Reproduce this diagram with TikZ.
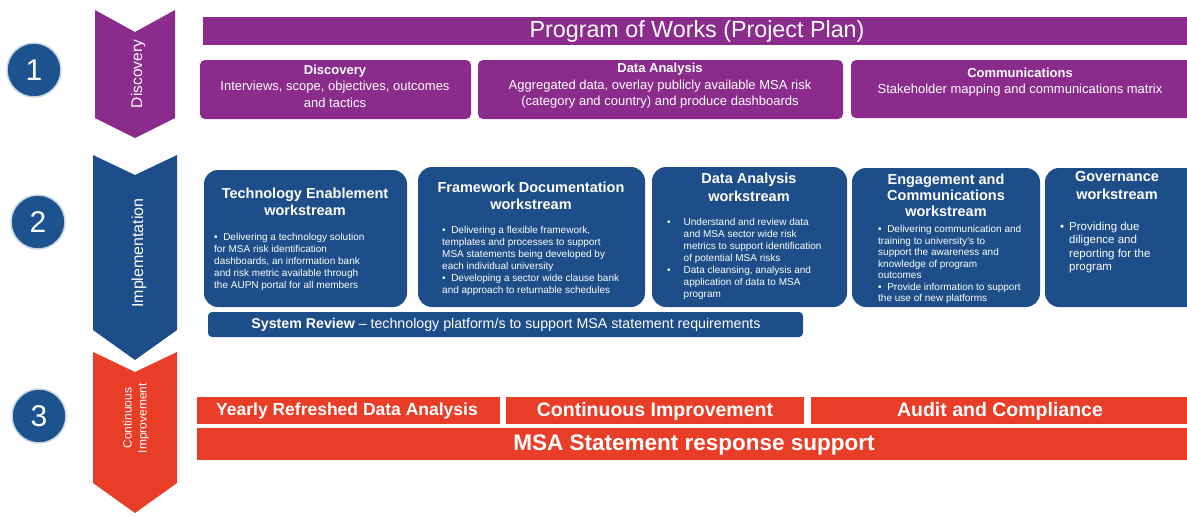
\documentclass[tikz,border=0pt]{standalone}
\usepackage{fontspec}
\setmainfont{Liberation Sans}
\usetikzlibrary{fit}

\definecolor{discpurple}{RGB}{139,43,140}
\definecolor{implblue}{RGB}{29,78,137}
\definecolor{contred}{RGB}{232,62,40}
\definecolor{numblue}{RGB}{28,82,142}

\newcommand{\wsgap}{5pt}

\tikzset{
  phasebox/.style={fill=discpurple, rounded corners=5pt, inner sep=0pt},
  wsbox/.style={fill=implblue, rounded corners=14pt, inner sep=0pt},
  redbar/.style={fill=contred, inner sep=0pt},
  numcircle/.style={circle, fill=numblue, draw=white!75!numblue, line width=1.5pt,
    minimum size=54pt, inner sep=0pt, text=white, font=\fontsize{30}{30}\selectfont},
  phaselabel/.style={rotate=90, text=white, align=center, font=\fontsize{#1}{15}\selectfont},
  phasetext/.style={text=white, align=center, font=\fontsize{13}{16.5}\selectfont},
  wstitle/.style={text=white, align=center, font=\fontsize{14.5}{17.5}\selectfont\bfseries},
  wsbody/.style={text=white, anchor=west, inner sep=0pt,
    font=\fontsize{10}{12}\selectfont},
  bartext/.style={text=white, font=\fontsize{#1}{#1}\selectfont\bfseries},
}

\begin{document}
\begin{tikzpicture}[x=1pt, y=-1pt]
			\useasboundingbox (0,0) rectangle (1187,515);
			\clip (0,0) rectangle (1187,515);
			%%%%% STAGES %%%%%
			
			\node[numcircle] (one) at (34,70) {1};
			\node[numcircle] (two) at (38,222) {2};
			\node[numcircle] (three) at (39,416) {3};
			
			\fill[discpurple] (95,10) -- (135,32) -- (175,10) -- (175,118) -- (135,138) -- (95,118) -- cycle;
			\fill[implblue] (93,155) -- (135,175) -- (177,155) -- (177,330) -- (135,360) -- (93,330) -- cycle;
			\fill[contred] (93,352) -- (135,372) -- (177,352) -- (177,483) -- (135,513) -- (93,483) -- cycle;
			
			\node[phaselabel=15.5] (discL) at (138,74) {Discovery};
			\node[phaselabel=16] (implL) at (139,253) {Implementation};
			\node[phaselabel=12] (contL) at (136,418) {Continuous\\Improvement};
			
			%%%%% DISCOVERY %%%%%
			
			\node[fill=discpurple, inner sep=0pt, fit={(203,17) (1195,45)}] (pow) {};
			\node[text=white, font=\fontsize{23.3}{23.3}\selectfont] (powT) at (697,31) {Program of Works (Project Plan)};
			
			\node[phasebox, fit={(200,60) (471,119)}] (disc) {};
			\node[phasetext] (discT) at (335,86) {\textbf{Discovery}\\Interviews, scope, objectives, outcomes\\and tactics};
			\node[phasebox, fit={(478,60) (843,119)}] (data) {};
			\node[phasetext] (dataT) at (660,86) {\textbf{Data Analysis}\\Aggregated data, overlay publicly available MSA risk\\(category and country) and produce dashboards};
			\node[phasebox, fit={(851,60) (1200,118)}] (comm) {};
			\node[phasetext] (commT) at (1020,82) {\textbf{Communications}\\Stakeholder mapping and communications matrix};
			
			%%%%% IMPLEMENTATION %%%%%
			
			\node[wsbox, fit={(204,170) (407,307)}] (tech) {};
			\node[wstitle] (techT) at (305,202) {Technology Enablement\\workstream};
			\node[wsbody] (techB) at (214,262) {%
				\begin{tabular}{@{}l@{}}
				\textbullet\ \ Delivering a technology solution\\
				for MSA risk identification\\
				dashboards, an information bank\\
				and risk metric available through\\
				the AUPN portal for all members
				\end{tabular}};
			
			\node[wsbox, fit={(418,167) (645,307)}] (frame) {};
			\node[wstitle] (frameT) at (531,196) {Framework Documentation\\workstream};
			\node[wsbody] (frameB) at (442,261) {%
				\begin{tabular}{@{}l@{}}
				\textbullet\ \ Delivering a flexible framework,\\
				templates and processes to support\\
				MSA statements being developed by\\
				each individual university\\
				\textbullet\ \ Developing a sector wide clause bank\\
				and approach to returnable schedules
				\end{tabular}};
			
			\node[wsbox, fit={(652,167) (847,307)}] (dataws) {};
			\node[wstitle] (datawsT) at (749,187.5) {Data Analysis\\workstream};
			\node[wsbody] (datawsB) at (667,259) {%
				\begin{tabular}{@{}l@{\hspace{13pt}}l@{}}
				\textbullet & Understand and review data\\
				& and MSA sector wide risk\\
				& metrics to support identification\\
				& of potential MSA risks\\
				\textbullet & Data cleansing, analysis and\\
				& application of data to MSA\\
				& program
				\end{tabular}};
			
			\node[wsbox, fit={(852,168) (1040,307)}] (engage) {};
			\node[wstitle, font=\fontsize{14.5}{16}\selectfont\bfseries] (engageT) at (946,195) {Engagement and\\Communications\\workstream};
			\node[wsbody, font=\fontsize{10}{11.5}\selectfont] (engageB) at (878,265) {%
				\begin{tabular}{@{}l@{}}
				\textbullet\ \ Delivering communication and\\
				training to university's to\\
				support the awareness and\\
				knowledge of program\\
				outcomes\\
				\textbullet\ \ Provide information to support\\
				the use of new platforms
				\end{tabular}};
			
			\node[wsbox, fit={(1045,168) (1210,307)}] (gov) {};
			\node[wstitle] (govT) at (1117,185.5) {Governance\\workstream};
			\node[wsbody, font=\fontsize{11.5}{13.5}\selectfont] (govB) at (1060,248) {%
				\begin{tabular}{@{}l@{\hspace{\wsgap}}l@{}}
				\textbullet & Providing due\\
				& diligence and\\
				& reporting for the\\
				& program
				\end{tabular}};
			
			\node[fill=implblue, rounded corners=4pt, inner sep=0pt, fit={(208,312) (803,337)}] (sysrev) {};
			\node[text=white, font=\fontsize{14.2}{14.2}\selectfont] (sysrevT) at (506,325) {\textbf{System Review} -- technology platform/s to support MSA statement requirements};
			
			%%%%% CONTINUOUS IMPROVEMENT %%%%%
			
			\node[redbar, fit={(197,397) (500,424)}] (yearly) {};
			\node[bartext=17.5] (yearlyT) at (347,411) {Yearly Refreshed Data Analysis};
			\node[redbar, fit={(506,397) (804,424)}] (improve) {};
			\node[bartext=19.5] (improveT) at (655,411) {Continuous Improvement};
			\node[redbar, fit={(811,397) (1195,424)}] (audit) {};
			\node[bartext=19.5] (auditT) at (1000,411) {Audit and Compliance};
			\node[redbar, fit={(197,428) (1195,460)}] (msa) {};
			\node[bartext=22.5] (msaT) at (694,445) {MSA Statement response support};
			
			%%%%% END %%%%%
\end{tikzpicture}
\end{document}
